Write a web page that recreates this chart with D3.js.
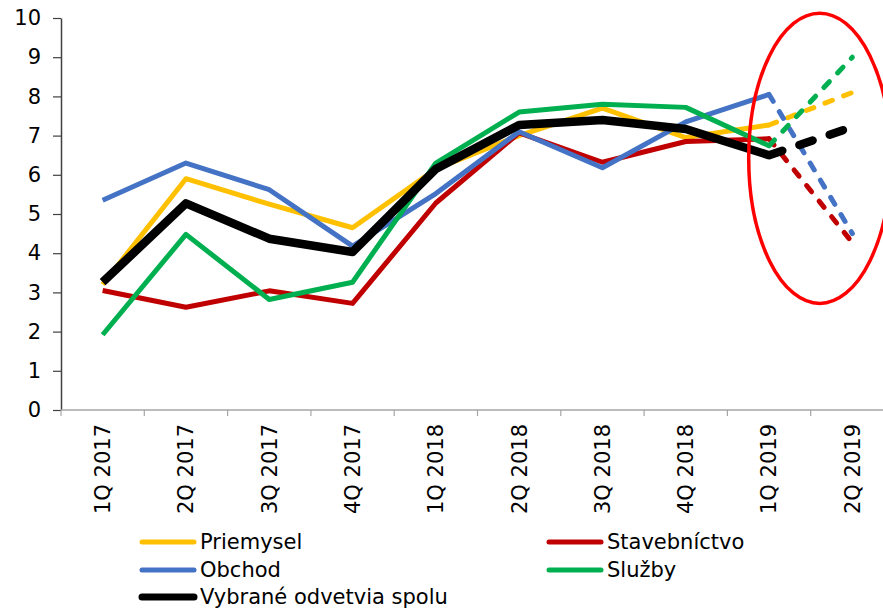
<!DOCTYPE html>
<html>
<head>
<meta charset="utf-8">
<script src="https://cdn.jsdelivr.net/npm/d3@7"></script>
<style>
  body { margin: 0; background: #fff; }
  text { font-family: "DejaVu Sans", Verdana, sans-serif; fill: #000; }
</style>
</head>
<body>
<div id="chart"></div>
<script>
// categories and series
var quarters = ["1Q 2017", "2Q 2017", "3Q 2017", "4Q 2017", "1Q 2018",
                "2Q 2018", "3Q 2018", "4Q 2018", "1Q 2019", "2Q 2019"];
var priemysel    = [3.2, 5.9, 5.25, 4.65, 6.15, 7.0, 7.7, 6.95, 7.27, 8.1];
var stavebnictvo = [3.05, 2.62, 3.04, 2.72, 5.28, 7.07, 6.32, 6.85, 6.92, 4.27];
var obchod       = [5.35, 6.3, 5.62, 4.18, 5.52, 7.1, 6.18, 7.35, 8.05, 4.5];
var sluzby       = [1.92, 4.48, 2.82, 3.26, 6.3, 7.6, 7.8, 7.72, 6.74, 9.0];
var spolu        = [3.26, 5.27, 4.37, 4.03, 6.15, 7.27, 7.4, 7.17, 6.5, 7.22];
var seriesNames  = ["Priemysel", "Stavebníctvo", "Obchod", "Služby", "Vybrané odvetvia spolu"];
var yTicks = [0, 1, 2, 3, 4, 5, 6, 7, 8, 9, 10];

var W = 883, H = 608;
var colors = ["#FFC000", "#C00000", "#4472C4", "#00B050", "#000000"];
var widths = [5, 5, 5, 5, 8.5];

var svg = d3.select("#chart").append("svg")
    .attr("width", W)
    .attr("height", H);

// set the ranges
var x = d3.scaleBand().domain(quarters).range([61, 894]).padding(0);
var y = d3.scaleLinear().domain([0, 10]).range([410, 18]);
var cx = function(d) { return x(d) + x.bandwidth() / 2; };

// Y axis
var yAxis = svg.append("g")
    .attr("transform", "translate(61,0)")
    .call(d3.axisLeft(y).tickValues(yTicks).tickSize(8).tickSizeOuter(0).tickPadding(12));
yAxis.select(".domain").attr("stroke", "#404040").attr("stroke-width", 1.5);
yAxis.selectAll(".tick line").attr("stroke", "#404040").attr("stroke-width", 1.2);
yAxis.selectAll("text").style("font-size", "21px").style("font-family", "DejaVu Sans, Verdana, sans-serif").attr("fill", "#000");

// X axis (ticks between categories)
var xAxis = svg.append("g");
xAxis.append("line")
    .attr("x1", 61).attr("x2", W)
    .attr("y1", y(0)).attr("y2", y(0))
    .attr("stroke", "#A6A6A6").attr("stroke-width", 1.5);
xAxis.selectAll(".xtick")
    .data(quarters)
    .enter().append("line")
    .attr("x1", function(d) { return x(d); })
    .attr("x2", function(d) { return x(d); })
    .attr("y1", y(0)).attr("y2", y(0) + 6)
    .attr("stroke", "#A6A6A6").attr("stroke-width", 1.2);
xAxis.selectAll(".xlabel")
    .data(quarters)
    .enter().append("text")
    .attr("transform", function(d) { return "translate(" + cx(d) + "," + (y(0) + 14) + ") rotate(-90)"; })
    .attr("text-anchor", "end")
    .attr("dy", "0.35em")
    .style("font-size", "21px")
    .text(function(d) { return d; });

// lines: solid through 1Q 2019, dashed to 2Q 2019
var allSeries = [priemysel, stavebnictvo, obchod, sluzby, spolu];
var line = d3.line()
    .x(function(d) { return cx(d.q); })
    .y(function(d) { return y(d.v); });

allSeries.forEach(function(vals, i) {
  var pts = vals.map(function(v, j) { return {q: quarters[j], v: v}; });
  var n = pts.length;
  svg.append("path")
      .datum(pts.slice(0, n - 1))
      .attr("d", line)
      .attr("fill", "none")
      .attr("stroke", colors[i])
      .attr("stroke-width", widths[i])
      .attr("stroke-linejoin", "round");
  svg.append("path")
      .datum(pts.slice(n - 2))
      .attr("d", line)
      .attr("fill", "none")
      .attr("stroke", colors[i])
      .attr("stroke-width", widths[i])
      .attr("stroke-linecap", "round")
      .attr("stroke-dasharray", i == 4 ? "14,18" : "8,12");
});

// highlight ellipse around the forecast
svg.append("ellipse")
    .attr("cx", (cx("1Q 2019") + cx("2Q 2019")) / 2 + 9)
    .attr("cy", y(6.42))
    .attr("rx", 71)
    .attr("ry", (y(2.7) - y(10.1)) / 2)
    .attr("fill", "none")
    .attr("stroke", "#FF0000")
    .attr("stroke-width", 3.5);

// legend
var legendPos = [
  {x: 140, y: 542}, {x: 547, y: 542},
  {x: 140, y: 570}, {x: 547, y: 570},
  {x: 140, y: 597}
];
var legend = svg.selectAll(".legend")
    .data(seriesNames)
    .enter().append("g")
    .attr("transform", function(d, i) { return "translate(" + legendPos[i].x + "," + legendPos[i].y + ")"; });
legend.append("line")
    .attr("x1", 2).attr("x2", 54)
    .attr("stroke", function(d, i) { return colors[i]; })
    .attr("stroke-width", function(d, i) { return i == 4 ? 7 : 5; })
    .attr("stroke-linecap", "round");
legend.append("text")
    .attr("x", 60)
    .attr("dy", "0.35em")
    .style("font-size", "21px")
    .text(function(d) { return d; });
</script>
</body>
</html>
